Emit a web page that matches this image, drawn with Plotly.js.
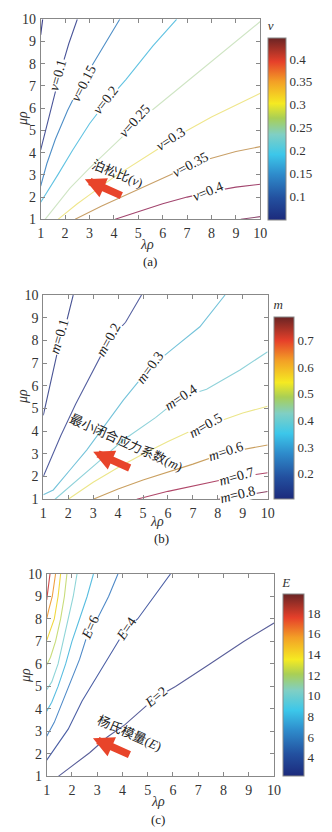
<!DOCTYPE html>
<html><head><meta charset="utf-8">
<script src="https://cdn.plot.ly/plotly-3.0.1.min.js"></script>
<style>html,body{margin:0;padding:0;background:#fff}#chart{width:332px;height:832px}</style>
</head><body><div id="chart"></div>
<script>
// ---------- data: panel (a) Poisson ratio ν ----------
const nuLevels = ['0.05','0.1','0.15','0.2','0.25','0.3','0.35','0.4','0.45'];
const nuX = [
  [1.0,1.08],
  [2.5,2.15,1.8,1.45,1.15,1.0],
  [4.24,3.7,3.1,2.6,2.1,1.6,1.25,1.0],
  [6.57,5.6,4.5,3.7,3.0,2.3,1.7,1.3,1.0],
  [10,9,8,7,6,5,4,3,2.2,1.6,1.18],
  [10,9,8,7,6.36,6,5,4,3,2.5,1.71],
  [10,9,8,7.1,6.5,5.5,4.4,3.5,2.41],
  [10,9,8,7,6,5,4.05],
  [10,9.2]
];
const nuY = [
  [9.3,10],
  [10,8.9,7.6,6.1,4.8,4.12],
  [10,9.0,7.9,7.0,5.9,4.6,3.5,2.5],
  [10,8.8,7.3,6.3,5.3,4.1,3.0,2.3,1.77],
  [9.9,9.0,8.1,7.2,6.3,5.4,4.35,3.3,2.4,1.6,1.0],
  [6.67,6.15,5.6,5.0,4.62,4.3,3.6,2.9,2.1,1.7,1.0],
  [4.27,4.05,3.75,3.45,3.1,2.6,2.05,1.6,1.0],
  [2.58,2.45,2.25,2.0,1.7,1.35,1.0],
  [1.12,1.0]
];
const nuLabelText = ['ν=0.1','ν=0.15','ν=0.2','ν=0.25','ν=0.3','ν=0.35','ν=0.4'];
const nuLabelX = [1.72,2.75,3.69,4.86,6.36,7.15,7.85];
const nuLabelY = [7.5,7.12,6.37,5.45,4.62,3.47,2.26];
const nuLabelAngle = [-74,-63,-52,-48,-33,-28,-22];
const nuColorTicks = [0.1,0.15,0.2,0.25,0.3,0.35,0.4];

// ---------- data: panel (b) minimum closure stress coefficient m ----------
const mLevels = ['0.1','0.2','0.3','0.4','0.5','0.6','0.7','0.8'];
const mX = [
  [2.2,1.95,1.65,1.3,1.0],
  [4.94,4.3,3.63,2.9,2.3,1.7,1.3,1.0],
  [8.29,7.28,6.21,5.28,4.21,3.54,2.74,2.07,1.4,1.0],
  [10,8.89,7.55,6.51,5.5,4.21,3.14,2.2,1.47],
  [10,9,8,7.51,7,6,5,4,3,2.0],
  [10,9,8.31,7,6,5,4,3.0],
  [10,9,8.75,8,7,6,4.75],
  [10,9,8.02]
];
const mY = [
  [10,8.9,7.9,6.2,4.7],
  [10,8.8,8.0,6.5,5.2,3.8,2.8,2.0],
  [10,8.6,7.65,6.81,5.37,4.35,3.17,2.29,1.41,1.2],
  [7.5,6.7,5.85,5.49,4.6,3.61,2.58,1.7,1.0],
  [5.1,4.8,4.42,4.24,4.05,3.55,3.0,2.4,1.75,1.0],
  [3.39,3.18,3.05,2.55,2.2,1.85,1.45,1.0],
  [2.17,2.02,1.97,1.82,1.6,1.35,1.0],
  [1.34,1.17,1.0]
];
const mLabelText = ['m=0.1','m=0.2','m=0.3','m=0.4','m=0.5','m=0.6','m=0.7','m=0.8'];
const mLabelX = [1.65,3.63,5.28,6.51,7.51,8.31,8.75,8.82];
const mLabelY = [8.16,8.02,6.81,5.49,4.24,3.12,1.99,1.19];
const mLabelAngle = [-73,-61,-54,-34,-30,-18,-16,-14];
const mColorTicks = [0.2,0.3,0.4,0.5,0.6,0.7];

// ---------- data: panel (c) Young's modulus E ----------
const eLevels = ['2','4','6','8','10','12','14','16','18'];
const eX = [
  [1.46,2.2,2.7,3.4,4.1,5.31,6.1,7.4,8.8,10],
  [5.9,5.2,4.6,4.13,3.5,2.9,2.4,1.85,1.35,1.0],
  [3.82,3.45,3.0,2.7,2.3,1.95,1.6,1.3,1.0],
  [2.85,2.6,2.3,2.0,1.75,1.45,1.2,1.0],
  [2.2,2.05,1.85,1.65,1.45,1.2,1.0],
  [1.8,1.7,1.55,1.35,1.15,1.0],
  [1.55,1.45,1.3,1.12,1.0],
  [1.35,1.22,1.08,1.0],
  [1.13,1.05,1.0]
];
const eY = [
  [1.0,1.65,2.05,2.75,3.3,4.5,5.0,5.95,7.0,7.82],
  [10,8.9,8.0,7.55,6.4,5.3,4.35,3.1,2.3,1.72],
  [10,9.0,8.0,7.62,6.2,5.2,4.2,3.4,2.78],
  [10,9.0,8.0,7.0,6.0,5.0,4.3,3.9],
  [10,9.0,8.0,7.0,6.0,5.2,4.85],
  [10,9.0,8.0,7.0,6.3,5.95],
  [10,9.0,8.0,7.4,7.05],
  [10,9.0,8.4,8.0],
  [10,9.4,8.85]
];
const eLabelText = ['E=2','E=4','E=6'];
const eLabelX = [5.31,4.13,2.72];
const eLabelY = [4.5,7.55,7.62];
const eLabelAngle = [-40,-56,-66];
const eColorTicks = [4,6,8,10,12,14,16,18];

const axisTicks = [1,2,3,4,5,6,7,8,9,10];
const captions = ['(a)','(b)','(c)'];
const xTitle = 'λρ';
const yTitle = 'μρ';

// ---------- styling ----------
const nuColors = ['#3a3f8a','#4b569a','#4f8fc7','#62c3e2','#cfe5c4','#efe68c','#c9a068','#a2456e','#8e4a70'];
const mColors  = ['#4a5595','#5560a0','#74c3da','#8fd2da','#ece68a','#caa060','#b0486a','#8a4062'];
const eColors  = ['#5a5f9a','#4b5fa5','#4f8ac8','#58bde0','#8fd5d8','#c8dc7a','#f0d840','#f0a040','#d04848'];
const cscale = [
  [0,'#1c2a7c'],[0.12,'#23509f'],[0.25,'#2e8bcb'],[0.36,'#3cc7ea'],[0.47,'#80cfc4'],
  [0.56,'#a9cf55'],[0.64,'#f5ea22'],[0.76,'#f3a026'],[0.87,'#e6402a'],[1,'#6a2424']
];
const SERIF = 'Liberation Serif';
const CJK = 'Liberation Serif, Noto Sans CJK SC';
const W = 332, H = 832;
const px = v => v / W, py = v => 1 - v / H;

const traces = [];
const annotations = [];

function addPanel(ax, levels, xs, ys, colors, labelText, lx, ly, la, cmin, cmax, cticks, cbX, cbY, cbThick, cbTitle) {
  const xa = ax === 1 ? 'x' : 'x' + ax, ya = ax === 1 ? 'y' : 'y' + ax;
  levels.forEach((lv, i) => {
    traces.push({type:'scatter', mode:'lines', x: xs[i], y: ys[i], xaxis: xa, yaxis: ya,
      line:{color: colors[i], width:1.1}, hoverinfo:'skip', showlegend:false, name: lv});
  });
  labelText.forEach((t, i) => {
    annotations.push({xref: xa, yref: ya, x: lx[i], y: ly[i], text: t.replace(/^(ν|m|E)/, '<i>$1</i>'),
      showarrow:false, textangle: la[i], bgcolor:'#ffffff', borderpad:0,
      font:{family: SERIF, size:14, color:'#222'}});
  });
  traces.push({type:'scatter', mode:'markers', x:[1], y:[1], xaxis: xa, yaxis: ya,
    marker:{color:[cmin], cmin: cmin, cmax: cmax, colorscale: cscale, opacity:0, size:1, showscale:true,
      colorbar:{x: cbX, xanchor:'left', y: cbY, yanchor:'middle', len:0.2425, lenmode:'fraction',
        thickness: cbThick, xpad:0, ypad:0, outlinewidth:1, outlinecolor:'#888', ticks:'',
        tickvals: cticks, ticklabelposition:'outside', tickfont:{family: SERIF, size:13, color:'#333'},
        title:{text:'<i>'+cbTitle+'</i>', side:'top', font:{family: SERIF, size:13, color:'#333'}}}},
    hoverinfo:'skip', showlegend:false});
}

addPanel(1, nuLevels, nuX, nuY, nuColors, nuLabelText, nuLabelX, nuLabelY, nuLabelAngle, 0.05, 0.446, nuColorTicks, 0.808, 0.8572, 18.4, 'ν');
addPanel(2, mLevels, mX, mY, mColors, mLabelText, mLabelX, mLabelY, mLabelAngle, 0.107, 0.79, mColorTicks, 0.8253, 0.5222, 20, 'm');
addPanel(3, eLevels, eX, eY, eColors, eLabelText, eLabelX, eLabelY, eLabelAngle, 2.2, 19.8, eColorTicks, 0.8515, 0.1883, 20.6, 'E');

// arrows and descriptive labels
const arrowHeads = [[2.81,2.8,'x','y'],[3.0,3.1,'x2','y2'],[2.83,2.69,'x3','y3']];
arrowHeads.forEach(a => annotations.push({xref:a[2], yref:a[3], x:a[0], y:a[1], ax:38, ay:17, text:'',
  showarrow:true, arrowcolor:'#e8442a', arrowwidth:7.5, arrowhead:2, arrowsize:0.55, standoff:0}));
annotations.push({xref:'x', yref:'y', x:4.13, y:3.08, text:'泊松比(<i>ν</i>)', showarrow:false, textangle:22,
  font:{family:CJK, size:13, color:'#222'}});
annotations.push({xref:'x2', yref:'y2', x:4.3, y:3.5, text:'最小闭合应力系数(<i>m</i>)', showarrow:false, textangle:24,
  font:{family:CJK, size:13, color:'#222'}});
annotations.push({xref:'x3', yref:'y3', x:4.29, y:2.9, text:'杨氏模量(<i>E</i>)', showarrow:false, textangle:24,
  font:{family:CJK, size:13, color:'#222'}});

// axis titles and sub captions (pixel positions)
const xTitlePos = [[147,244],[157,521],[158,801]];
const yTitlePos = [[22,119],[22,397],[25,676]];
const capPos = [[150,261],[161,538],[158,819]];
for (let i = 0; i < 3; i++) {
  annotations.push({xref:'paper', yref:'paper', x:px(xTitlePos[i][0]), y:py(xTitlePos[i][1]), xanchor:'center', yanchor:'middle',
    text:'<i>'+xTitle+'</i>', showarrow:false, borderpad:0, font:{family:SERIF, size:14, color:'#333'}});
  annotations.push({xref:'paper', yref:'paper', x:px(yTitlePos[i][0]), y:py(yTitlePos[i][1]), xanchor:'center', yanchor:'middle',
    text:'<i>'+yTitle+'</i>', textangle:-90, showarrow:false, font:{family:SERIF, size:14, color:'#333'}});
  annotations.push({xref:'paper', yref:'paper', x:px(capPos[i][0]), y:py(capPos[i][1]), xanchor:'center', yanchor:'middle',
    text:captions[i], showarrow:false, borderpad:0, font:{family:SERIF, size:13, color:'#222'}});
}

function axis(domain, anchor) {
  return {domain: domain, anchor: anchor, range:[1,10], tickvals: axisTicks, ticks:'inside', ticklen:4,
    tickcolor:'#888', showline:true, linecolor:'#888', linewidth:1, mirror:'ticks', showgrid:false,
    zeroline:false, automargin:false, fixedrange:true, ticklabelstandoff:1,
    tickfont:{family:SERIF, size:14, color:'#333'}};
}

const layout = {
  width:W, height:H, margin:{l:0,r:0,t:0,b:0}, paper_bgcolor:'#fff', plot_bgcolor:'#fff',
  showlegend:false,
  xaxis: axis([0.1226,0.7840],'y'),  yaxis: axis([0.7364,0.9768],'x'),
  xaxis2: axis([0.1304,0.8063],'y2'), yaxis2: axis([0.3999,0.6454],'x2'),
  xaxis3: axis([0.1407,0.8253],'y3'), yaxis3: axis([0.0669,0.3101],'x3'),
  annotations: annotations
};
Plotly.newPlot('chart', traces, layout, {staticPlot:true, displayModeBar:false});
</script></body></html>
